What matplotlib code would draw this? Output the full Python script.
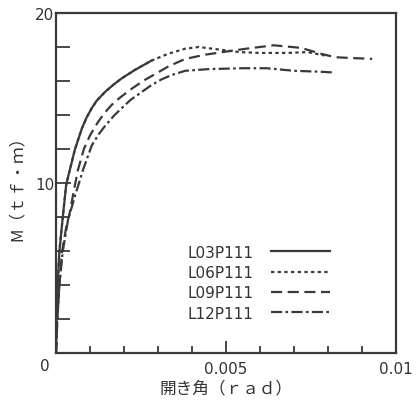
import matplotlib.pyplot as plt
from matplotlib.ticker import MultipleLocator

# Daten (Öffnungswinkel in rad, Moment in tf·m)
x_l03 = [0, 0.00002, 0.00005, 0.0001, 0.0002, 0.0003, 0.00041, 0.00056, 0.00076, 0.0009,
         0.00105, 0.0012, 0.00144, 0.0017, 0.00193, 0.00232, 0.00281]
y_l03 = [0, 2, 4, 6, 8, 9.9, 10.8, 12.0, 13.2, 13.85, 14.4, 14.85, 15.35, 15.8, 16.15,
         16.65, 17.2]

x_l06 = [0, 0.00002, 0.00005, 0.0001, 0.0002, 0.0003, 0.00041, 0.00056, 0.00076, 0.0009,
         0.00105, 0.0012, 0.00144, 0.0017, 0.00193, 0.00232, 0.00281, 0.0033, 0.0038, 0.0042,
         0.0048, 0.0054, 0.006, 0.0068, 0.0074, 0.0079]
y_l06 = [0, 2, 4, 6, 8, 9.9, 10.8, 12.0, 13.2, 13.85, 14.4, 14.85, 15.35, 15.8, 16.15,
         16.65, 17.2, 17.6, 17.9, 18.0, 17.85, 17.7, 17.65, 17.65, 17.7, 17.5]

x_l09 = [0, 0.00004, 0.0001, 0.00018, 0.0003, 0.00041, 0.00052, 0.00065, 0.00082, 0.001,
         0.00124, 0.00144, 0.00164, 0.0019, 0.00223, 0.0026, 0.00291, 0.0033, 0.0038, 0.0044,
         0.0049, 0.0056, 0.0064, 0.0072, 0.0078, 0.0082, 0.0087, 0.0093]
y_l09 = [0, 2, 4, 6, 7.4, 8.3, 9.5, 10.8, 12.0, 12.8, 13.6, 14.15, 14.6, 15.05, 15.55,
         16.05, 16.4, 16.85, 17.3, 17.55, 17.7, 17.9, 18.1, 17.95, 17.6, 17.4, 17.35, 17.3]

x_l12 = [0, 0.00004, 0.0001, 0.0002, 0.00035, 0.00056, 0.0008, 0.00105, 0.00125, 0.00144,
         0.0017, 0.00193, 0.0022, 0.00252, 0.0028, 0.00311, 0.0034, 0.0038, 0.0045, 0.0055,
         0.0062, 0.007, 0.0077, 0.0082]
y_l12 = [0, 2, 4, 6, 7.8, 9.25, 10.8, 12.2, 12.85, 13.35, 13.95, 14.4, 14.9, 15.35, 15.75,
         16.1, 16.35, 16.6, 16.7, 16.75, 16.75, 16.6, 16.55, 16.5]

labels = ["L03P111", "L06P111", "L09P111", "L12P111"]

farb = "#3a3a3a"
plt.rcParams['font.family'] = ['DejaVu Sans']

fig = plt.figure(figsize=(4.17, 4.02), dpi=100)
ax = fig.add_axes([0.1343, 0.1194, 0.8153, 0.8458])

stile = ['-', (0, (1.5, 1.5)), (0, (5, 2.5)), (0, (5, 1.5, 1.2, 1.5))]
daten = [(x_l03, y_l03), (x_l06, y_l06), (x_l09, y_l09), (x_l12, y_l12)]
for (xs, ys), ls, lab in zip(daten, stile, labels):
    ax.plot(xs, ys, color=farb, lw=1.6, linestyle=ls, label=lab)

ax.set_xlim(0, 0.01)
ax.set_ylim(0, 20)

ax.set_xticks([0.005, 0.01])
ax.set_xticklabels(["0.005", "0.01"])
ax.xaxis.set_minor_locator(MultipleLocator(0.001))
ax.set_yticks([10, 20])
ax.set_yticklabels(["10", "20"])
ax.yaxis.set_minor_locator(MultipleLocator(2))
ax.tick_params(axis='x', which='major', direction='in', length=9, width=1.3, color=farb,
               labelsize=11, labelcolor="#333333", pad=6)
ax.tick_params(axis='x', which='minor', direction='in', length=5, width=1.3, color=farb)
ax.tick_params(axis='y', which='major', direction='in', length=11, width=1.3, color=farb,
               labelsize=11, labelcolor="#333333", pad=1)
ax.tick_params(axis='y', which='minor', direction='in', length=10, width=1.3, color=farb)
for s in ax.spines.values():
    s.set_color(farb)
    s.set_linewidth(1.6)

fig.text(45 / 417, 1 - 367 / 402, "0", fontsize=11, color="#333333", ha='center', va='center')

# Legende, Text links, Linie rechts
leg = ax.legend(loc='lower right', bbox_to_anchor=(0.845, 0.055), frameon=False, fontsize=11,
                handlelength=3.8, handletextpad=1.2, labelspacing=0.35, markerfirst=False,
                labelcolor="#333333")

ax.set_xlabel("開き角（ｒａｄ）", family=['Noto Sans CJK JP', 'DejaVu Sans'], fontsize=12,
              color="#333333", labelpad=2)
ax.set_ylabel("M（ｔｆ・ｍ）", family=['Noto Sans CJK JP', 'DejaVu Sans'], fontsize=12,
              color="#333333", labelpad=7)

plt.savefig("out.png", dpi=100)
